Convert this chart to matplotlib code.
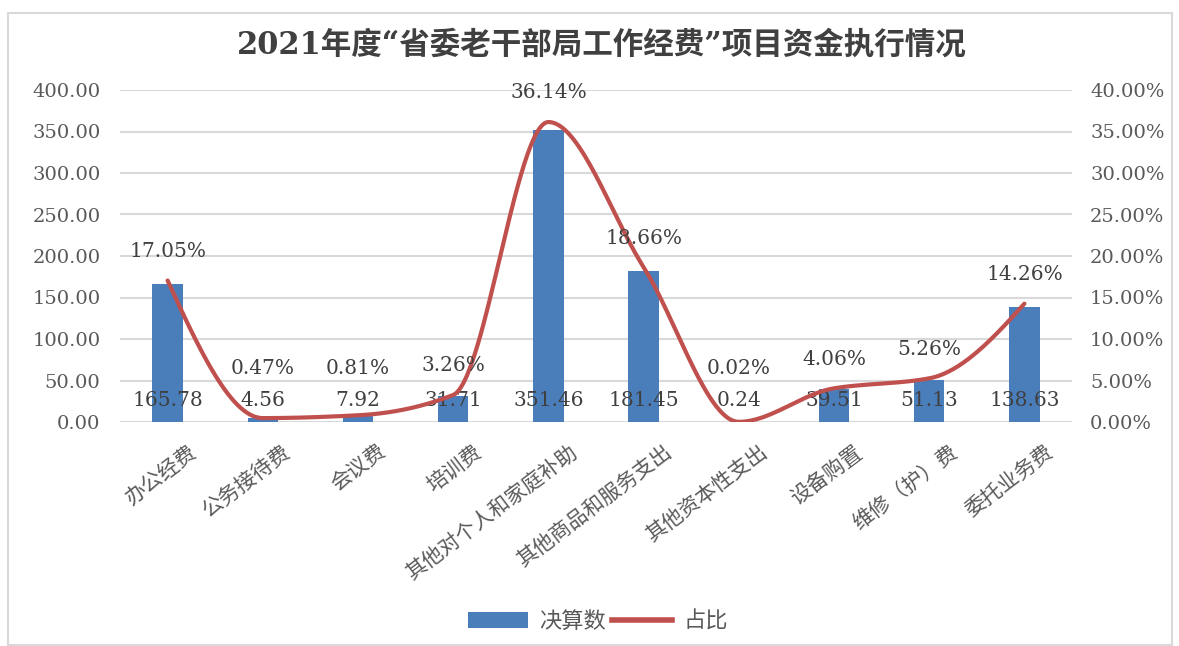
import numpy as np
import matplotlib
matplotlib.use("Agg")
import matplotlib.pyplot as plt
from matplotlib.patches import Rectangle, Patch
from matplotlib.lines import Line2D
import matplotlib.transforms as mtransforms
from matplotlib.ticker import FuncFormatter, MultipleLocator

categories = ["办公经费", "公务接待费", "会议费", "培训费", "其他对个人和家庭补助",
              "其他商品和服务支出", "其他资本性支出", "设备购置", "维修（护）费", "委托业务费"]
amounts = [165.78, 4.56, 7.92, 31.71, 351.46, 181.45, 0.24, 39.51, 51.13, 138.63]
shares = [17.05, 0.47, 0.81, 3.26, 36.14, 18.66, 0.02, 4.06, 5.26, 14.26]
title = "2021年度“省委老干部局工作经费”项目资金执行情况"
bar_name = "决算数"
line_name = "占比"

FAM = ["DejaVu Serif", "Noto Sans CJK SC"]
TXT = "#595959"
BLUE = "#4A7EBB"
RED = "#C0504D"

W, H = 1179, 646
fig = plt.figure(figsize=(W / 100, H / 100), dpi=100)
fig.patch.set_facecolor("white")

# outer chart border
fig.patches.append(Rectangle((8 / W, 1 - 645 / H), (1172 - 8) / W, (645 - 13) / H,
                             transform=fig.transFigure, fill=False,
                             edgecolor="#D9D9D9", linewidth=1.5))

left, right, top, bottom = 120, 1072, 90, 422
ax = fig.add_axes([left / W, 1 - bottom / H, (right - left) / W, (bottom - top) / H])
ax2 = ax.twinx()

x = np.arange(len(categories))
ax.bar(x, amounts, width=0.32, color=BLUE, zorder=2)
ax.set_xlim(-0.5, len(categories) - 0.5)
ax.set_ylim(0, 400)
ax.yaxis.set_major_locator(MultipleLocator(50))
ax.yaxis.set_major_formatter(FuncFormatter(lambda v, p: f"{v:.2f}"))
ax.grid(axis="y", color="#D9D9D9", linewidth=1.5, zorder=0)
ax.set_axisbelow(True)

# smoothed line: monotone piecewise cubic Hermite (PCHIP) through the data points
y = np.array(shares, dtype=float)
xf = x.astype(float)
n = len(y)
h = np.diff(xf)
d = np.diff(y) / h
m = np.zeros(n)
for k in range(1, n - 1):
    if d[k - 1] * d[k] > 0:
        w1 = 2 * h[k] + h[k - 1]
        w2 = h[k] + 2 * h[k - 1]
        m[k] = (w1 + w2) / (w1 / d[k - 1] + w2 / d[k])


def end_slope(h0, h1, d0, d1):
    s = ((2 * h0 + h1) * d0 - h0 * d1) / (h0 + h1)
    if np.sign(s) != np.sign(d0):
        s = 0.0
    elif np.sign(d0) != np.sign(d1) and abs(s) > abs(3 * d0):
        s = 3 * d0
    return s


m[0] = end_slope(h[0], h[1], d[0], d[1])
m[-1] = end_slope(h[-1], h[-2], d[-1], d[-2])
cx, cy = [], []
for k in range(n - 1):
    t = np.linspace(0, 1, 60)
    h00 = 2 * t ** 3 - 3 * t ** 2 + 1
    h10 = t ** 3 - 2 * t ** 2 + t
    h01 = -2 * t ** 3 + 3 * t ** 2
    h11 = t ** 3 - t ** 2
    cx.extend(xf[k] + t * h[k])
    cy.extend(h00 * y[k] + h10 * h[k] * m[k] + h01 * y[k + 1] + h11 * h[k] * m[k + 1])
ax2.plot(cx, cy, color=RED, linewidth=3, solid_capstyle="round", zorder=3)
ax2.yaxis.set_major_locator(MultipleLocator(5))
ax2.yaxis.set_major_formatter(FuncFormatter(lambda v, p: f"{v:.2f}%"))
ax2.set_ylim(0, 40)

for a in (ax, ax2):
    for s in a.spines.values():
        s.set_visible(False)
    a.tick_params(length=0, colors=TXT, labelsize=14)
ax.tick_params(axis="y", pad=14)
ax2.tick_params(axis="y", pad=13)
for lab in ax.get_yticklabels() + ax2.get_yticklabels():
    lab.set_family(FAM)

# category labels
ax.set_xticks(x)
ax.set_xticklabels([])
offset = mtransforms.ScaledTranslation(20 / 100, -20 / 100, fig.dpi_scale_trans)
trans = mtransforms.blended_transform_factory(ax.transData, ax.transAxes) + offset
for xi, c in zip(x, categories):
    ax.text(xi, 0, c, transform=trans, rotation=37, rotation_mode="anchor",
            ha="right", va="top", fontsize=15, color=TXT, family=FAM)

# data labels
for xi, v in zip(x, amounts):
    ax.text(xi, 26.5, f"{v:.2f}", ha="center", va="center", fontsize=14.5,
            color="#404040", family=FAM, zorder=4)
for xi, v in zip(x, shares):
    ax2.text(xi, max(v + 3.5, 6.4), f"{v:.2f}%", ha="center", va="center",
             fontsize=14.5, color="#404040", family=FAM, zorder=4)

fig.text(602 / W, 1 - 45 / H, title, ha="center", va="center", fontsize=22,
         fontweight="bold", color="#404040", family=FAM)

handles = [Patch(facecolor=BLUE, edgecolor="none"),
           Line2D([0], [0], color=RED, linewidth=4)]
leg = fig.legend(handles, [bar_name, line_name], loc="center",
                 bbox_to_anchor=(598 / W, 1 - 622 / H), ncol=2, frameon=False,
                 handlelength=2.7, handletextpad=0.5, columnspacing=0.3,
                 prop={"family": FAM, "size": 16})
for t_ in leg.get_texts():
    t_.set_color(TXT)

fig.savefig("out.png", dpi=100, facecolor="white")
